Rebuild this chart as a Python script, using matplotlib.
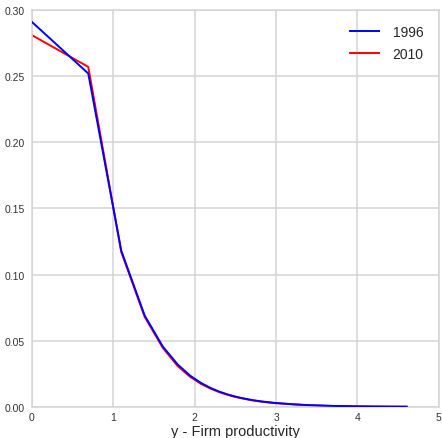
import numpy as np
import matplotlib
matplotlib.use("Agg")
import matplotlib.pyplot as plt

plt.rcParams["font.family"] = ["Liberation Sans", "DejaVu Sans"]

# productivity grid points (k), plotted at x = ln(k)
k_vals = [1, 2, 3, 4, 5, 6, 7, 8, 9, 10, 11, 12, 13, 14, 15, 16, 17, 18, 19, 20,
          25, 30, 40, 50, 60, 70, 80, 90, 100]
dens_1996 = [0.291, 0.252, 0.118, 0.069, 0.0455, 0.032, 0.0235, 0.018, 0.0142, 0.0115,
             0.0095, 0.0080, 0.0068, 0.0059, 0.0051, 0.0045, 0.0040, 0.0036, 0.0032, 0.0029,
             0.0019, 0.0013, 0.0007, 0.00045, 0.0003, 0.00022, 0.00017, 0.00013, 0.0001]
dens_2010 = [0.281, 0.257, 0.117, 0.068, 0.0445, 0.0308, 0.0226, 0.0173, 0.0137, 0.0111,
             0.0092, 0.0077, 0.0066, 0.0057, 0.0049, 0.0043, 0.0038, 0.0034, 0.0031, 0.0028,
             0.0018, 0.0012, 0.00065, 0.0004, 0.00028, 0.0002, 0.00015, 0.00012, 0.00009]
labels = ["1996", "2010"]

x = np.log(np.array(k_vals, dtype=float))

fig = plt.figure(figsize=(4.42, 4.39), dpi=100)
ax = fig.add_axes([0.072, 0.071, 0.921, 0.904])
ax.set_facecolor("white")

ax.plot(x, dens_1996, color="#0000ff", lw=1.4, label=labels[0], zorder=3)
ax.plot(x, dens_2010, color="#ff0000", lw=1.4, label=labels[1], zorder=2)

ax.set_xlim(0, 5)
ax.set_ylim(0, 0.30)
ax.set_xticks([0, 1, 2, 3, 4, 5])
ax.set_yticks([0.0, 0.05, 0.10, 0.15, 0.20, 0.25, 0.30])
ax.set_yticklabels(["0.00", "0.05", "0.10", "0.15", "0.20", "0.25", "0.30"])
ax.grid(True, color="#d4d4d4", lw=1.1)
ax.set_axisbelow(True)
for s in ax.spines.values():
    s.set_color("#d4d4d4")
    s.set_linewidth(1.1)
ax.tick_params(axis="both", labelsize=7.5, labelcolor="#333333", length=0)
ax.tick_params(axis="y", pad=5)
ax.tick_params(axis="x", pad=4)
ax.set_xlabel("y - Firm productivity", fontsize=10.5, color="#262626")
ax.xaxis.set_label_coords(0.5, -0.062)
ax.xaxis.label.set_va("center")

leg = ax.legend(loc="upper right", frameon=False, fontsize=10, handlelength=2.1,
                handletextpad=0.95, borderaxespad=0.7, labelspacing=0.55)
for t in leg.get_texts():
    t.set_color("#262626")

fig.savefig("out.png", dpi=100)
